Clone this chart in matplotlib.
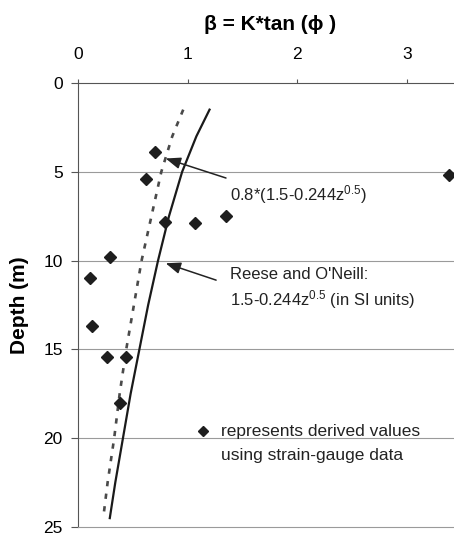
import matplotlib
matplotlib.use('Agg')
import matplotlib.pyplot as plt

plt.rcParams['font.family'] = ['Liberation Sans', 'DejaVu Sans']
plt.rcParams['mathtext.fontset'] = 'custom'
plt.rcParams['mathtext.rm'] = 'Liberation Sans'
plt.rcParams['mathtext.it'] = 'Liberation Sans'

# curves (beta vs depth)
depth_curve = [1.5, 3, 5, 7.5, 10, 12.5, 15, 17.5, 20, 22.5, 24.5]
beta_reese = [1.20, 1.08, 0.95, 0.83, 0.73, 0.64, 0.56, 0.48, 0.41, 0.34, 0.29]
beta_reduced = [0.96, 0.86, 0.76, 0.67, 0.58, 0.51, 0.44, 0.38, 0.33, 0.27, 0.23]

# strain-gauge derived points
beta_pts = [0.70, 0.62, 3.38, 0.79, 1.07, 1.35, 0.29, 0.11, 0.13, 0.26, 0.44, 0.38]
depth_pts = [3.9, 5.4, 5.2, 7.8, 7.9, 7.5, 9.8, 11.0, 13.7, 15.4, 15.4, 18.0]

xticks = [0, 1, 2, 3]
yticks = [0, 5, 10, 15, 20, 25]

fig = plt.figure(figsize=(4.54, 5.35), dpi=100)
ax = fig.add_axes([78 / 454, 1 - 527 / 535, 1 - 78 / 454, (527 - 83) / 535])

ax.set_xlim(0, 3.43)
ax.set_ylim(25, 0)

for y in [5, 10, 15, 20]:
    ax.axhline(y, color='#9a9a9a', lw=0.8, zorder=1)

ax.plot(beta_reese, depth_curve, '-', color='#1a1a1a', lw=1.6, zorder=3)
l2, = ax.plot(beta_reduced, depth_curve, '--', color='#4a4a4a', lw=1.9, zorder=3)
l2.set_dashes([2.0, 2.8])
ax.plot(beta_pts, depth_pts, 'D', color='#1e1e1e', ms=6.5, clip_on=False, zorder=4)

# key marker and note
ax.plot([1.14], [19.6], 'D', color='#1e1e1e', ms=5)
ax.text(1.30, 19.65, 'represents derived values', fontsize=12.5, va='center', color='#222222')
ax.text(1.30, 20.95, 'using strain-gauge data', fontsize=12.5, va='center', color='#222222')

arrowprops = dict(arrowstyle='-|>,head_length=0.9,head_width=0.35', color='#222222', lw=1.1,
                  shrinkA=0, shrinkB=0)
ax.annotate('', xy=(0.80, 4.25), xytext=(1.35, 5.35), arrowprops=arrowprops)
ax.text(1.39, 6.3, '0.8*(1.5-0.244z$^{0.5}$)', fontsize=12, va='center', color='#222222')
ax.annotate('', xy=(0.80, 10.15), xytext=(1.26, 11.1), arrowprops=arrowprops)
ax.text(1.39, 10.8, "Reese and O'Neill:", fontsize=12, va='center', color='#222222')
ax.text(1.39, 12.2, '1.5-0.244z$^{0.5}$ (in SI units)', fontsize=12, va='center', color='#222222')

ax.xaxis.tick_top()
ax.set_xticks(xticks)
ax.set_yticks(yticks)
ax.tick_params(axis='x', length=3, pad=12, labelsize=12.5, color='#555555')
ax.tick_params(axis='y', length=5, pad=6, labelsize=12.5, color='#555555')

ax.spines['right'].set_visible(False)
ax.spines['bottom'].set_color('#9a9a9a')
ax.spines['bottom'].set_linewidth(0.8)
ax.spines['top'].set_color('#555555')
ax.spines['left'].set_color('#555555')

ax.set_ylabel('Depth (m)', fontsize=15, fontweight='bold')
ax.yaxis.set_label_coords(-0.13, 0.5)
fig.text(270 / 454, 1 - 25 / 535, 'β = K*tan (ϕ )', fontsize=15, fontweight='bold',
         ha='center', va='center')

plt.savefig('out.png', dpi=100)
